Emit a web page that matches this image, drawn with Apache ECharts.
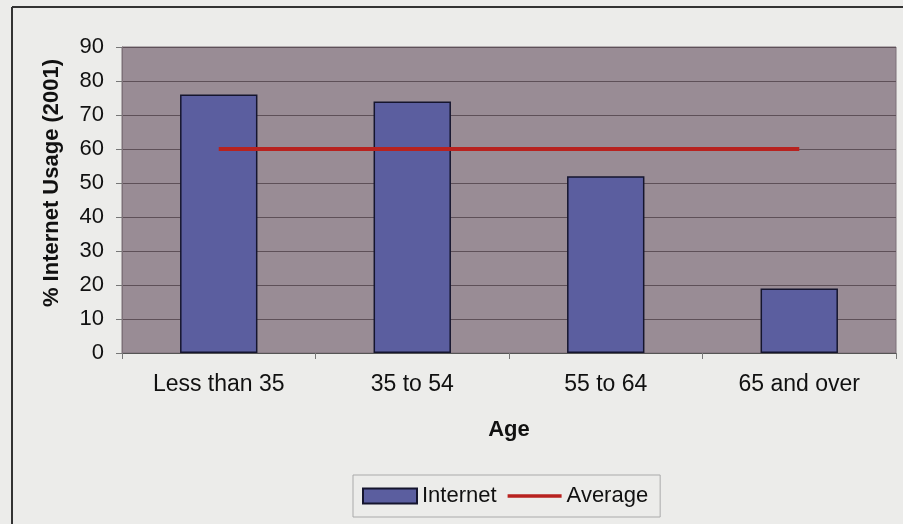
<!DOCTYPE html>
<html>
<head>
<meta charset="utf-8">
<script src="https://cdn.jsdelivr.net/npm/echarts@6/dist/echarts.min.js"></script>
<style>
html,body{margin:0;padding:0;background:#ececea;}
#chart{width:903px;height:524px;}
</style>
</head>
<body>
<div id="chart"></div>
<script>
// 数据
var ageGroups = ['Less than 35', '35 to 54', '55 to 64', '65 and over'];
var internetUsage = [76, 74, 52, 19];
var averageUsage = [60, 60, 60, 60];
var yTicks = [0, 10, 20, 30, 40, 50, 60, 70, 80, 90];

var myChart = echarts.init(document.getElementById('chart'));
var option = {
	backgroundColor: '#ececea',
	textStyle: {fontFamily: 'Liberation Sans, Arial, sans-serif'},
	graphic: [
		{type: 'line', shape: {x1: 12, y1: 7, x2: 903, y2: 7}, style: {stroke: '#333', lineWidth: 2}},
		{type: 'line', shape: {x1: 12, y1: 7, x2: 12, y2: 524}, style: {stroke: '#333', lineWidth: 2}}
	],
	grid: {
		left: 122, top: 47, right: 7, bottom: 171,
		show: true,
		backgroundColor: '#998c95',
		borderColor: '#7d7078',
		borderWidth: 1
	},
	legend: {
		data: [
			{name: 'Internet', icon: 'rect'},
			{name: 'Average', icon: 'path://M0,0 L360,0 M0,38 L360,38 L360,62 L0,62 Z M0,100 L360,100',
				itemStyle: {color: '#b8221f', borderWidth: 0}}
		],
		left: 353,
		top: 475,
		itemGap: 11,
		itemWidth: 54,
		itemHeight: 15,
		padding: [10, 12, 10, 9],
		borderColor: '#aaa',
		borderWidth: 1,
		textStyle: {fontSize: 22, color: '#111'}
	},
	xAxis: [{
		type: 'category',
		data: ageGroups,
		name: 'Age',
		nameLocation: 'middle',
		nameGap: 66,
		nameTextStyle: {fontSize: 22, fontWeight: 'bold', color: '#111'},
		axisLine: {lineStyle: {color: '#555', width: 1}},
		axisTick: {show: true, length: 6, lineStyle: {color: '#777'}},
		axisLabel: {fontSize: 23, color: '#111', margin: 20, interval: 0}
	}],
	yAxis: [{
		type: 'value',
		min: 0, max: 90, interval: 10,
		name: '% Internet Usage (2001)',
		nameLocation: 'middle',
		nameGap: 59,
		nameTextStyle: {fontSize: 22, fontWeight: 'bold', color: '#111', padding: [0, 0, 0, 34]},
		axisLine: {show: true, lineStyle: {color: '#7d7078'}},
		axisTick: {show: true, length: 6, lineStyle: {color: '#777'}},
		axisLabel: {fontSize: 22, color: '#111', margin: 18,
			formatter: function (v) { return yTicks.indexOf(v) >= 0 ? String(v) : ''; }},
		splitLine: {lineStyle: {color: '#5e5058', width: 1}}
	}],
	series: [
		{
			name: 'Internet',
			type: 'bar',
			data: internetUsage,
			barWidth: '40%',
			itemStyle: {color: '#5b5e9f', borderColor: '#15152e', borderWidth: 1.5}
		},
		{
			name: 'Average',
			type: 'line',
			data: averageUsage,
			symbol: 'none',
			lineStyle: {color: '#b8221f', width: 4},
			itemStyle: {color: '#b8221f'}
		}
	]
};
// 使用刚指定的配置项和数据显示图表。
myChart.setOption(option);
</script>
</body>
</html>
